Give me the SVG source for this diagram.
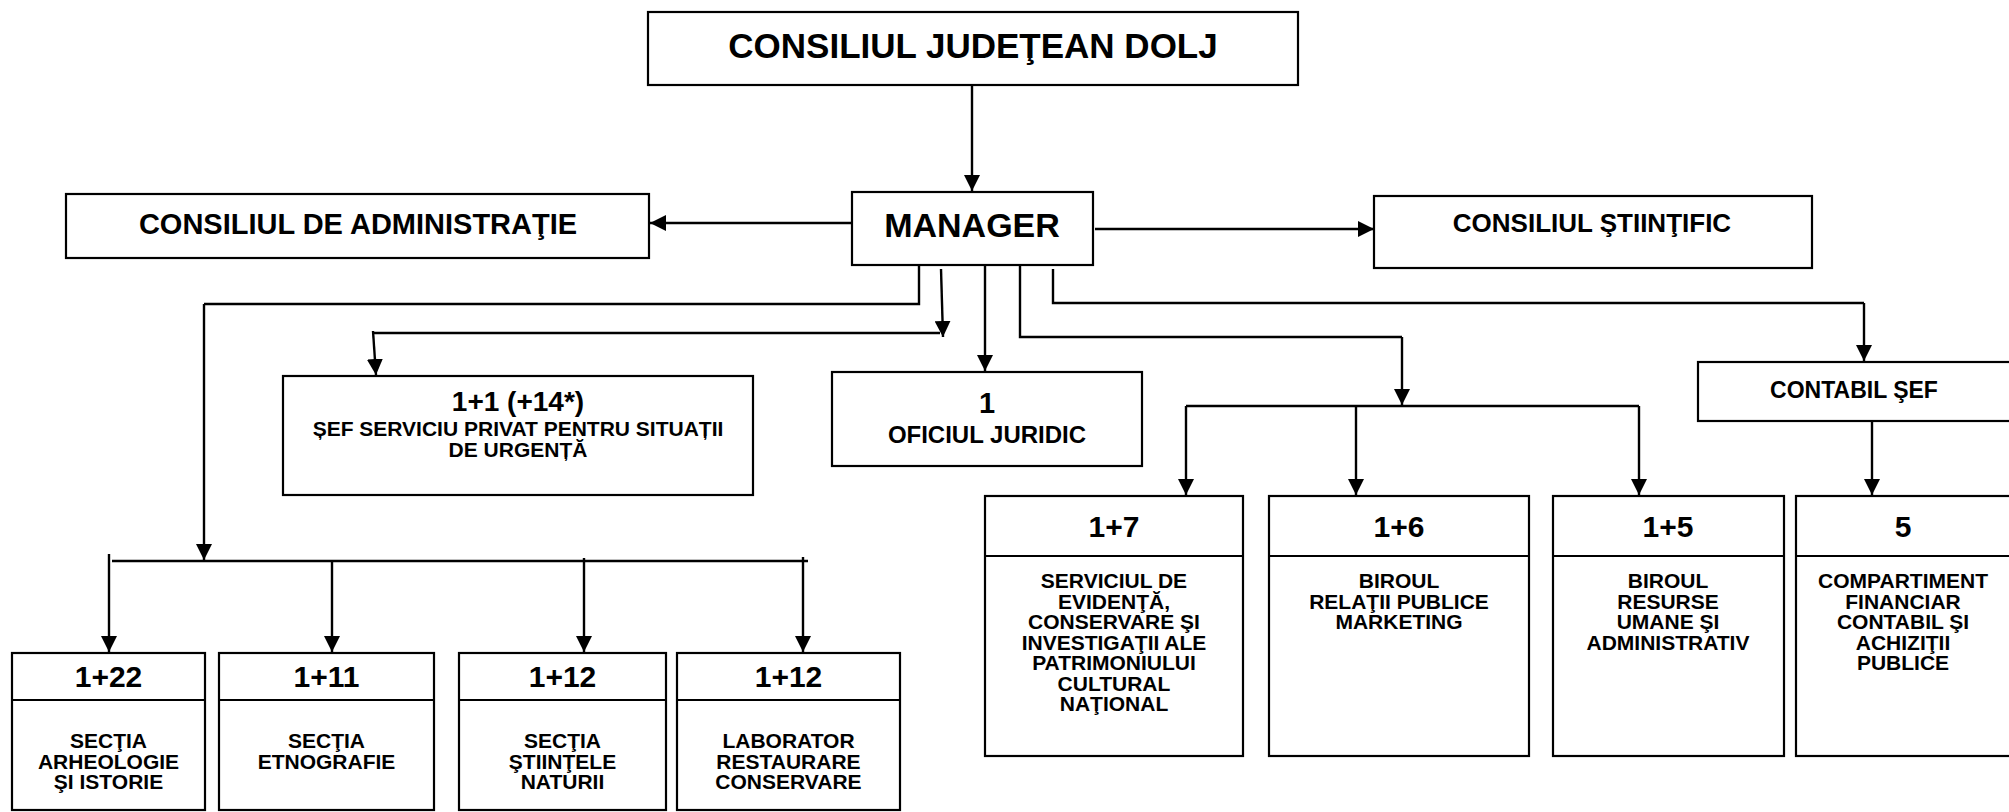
<svg xmlns="http://www.w3.org/2000/svg" width="2009" height="812" viewBox="0 0 2009 812">
<defs>
<marker id="ah" markerUnits="userSpaceOnUse" markerWidth="16" markerHeight="16" viewBox="0 0 16 16" refX="16" refY="8" orient="auto">
<path d="M0,0 L16,8 L0,16 z" fill="#000"/>
</marker>
</defs>
<style>
rect{fill:#fff;stroke:#000;stroke-width:2.2}
.dv{stroke:#000;stroke-width:2.2}
.c line,.c polyline{fill:none;stroke:#000;stroke-width:2.4}
.a{marker-end:url(#ah)}
text{font-family:"Liberation Sans",Arial,sans-serif;font-weight:bold;fill:#000;text-anchor:middle}
.n{font-size:30px}
.l{font-size:21px}
</style>
<rect x="0" y="0" width="2009" height="812" style="stroke:none"/>
<g class="c" id="connectors">
<line class="a" x1="972" y1="85" x2="972" y2="191"/>
<line class="a" x1="852" y1="223" x2="650" y2="223"/>
<line class="a" x1="1095" y1="229" x2="1374" y2="229"/>
<polyline points="919,263 919,304 204,304"/>
<line class="a" x1="204" y1="304" x2="204" y2="560"/>
<line x1="112" y1="561" x2="808" y2="561"/>
<line class="a" x1="109" y1="554" x2="109" y2="652"/>
<line class="a" x1="332" y1="561" x2="332" y2="652"/>
<line class="a" x1="584" y1="558" x2="584" y2="652"/>
<line class="a" x1="803" y1="557" x2="803" y2="652"/>
<line class="a" x1="941" y1="269" x2="943" y2="337"/>
<line x1="940" y1="333" x2="373" y2="333"/>
<line class="a" x1="373" y1="331" x2="376" y2="375"/>
<line class="a" x1="985" y1="265" x2="985" y2="371"/>
<polyline points="1020,265 1020,337 1402,337"/>
<line class="a" x1="1402" y1="337" x2="1402" y2="405"/>
<line x1="1186" y1="406" x2="1639" y2="406"/>
<line class="a" x1="1186" y1="406" x2="1186" y2="495"/>
<line class="a" x1="1356" y1="406" x2="1356" y2="495"/>
<line class="a" x1="1639" y1="406" x2="1639" y2="495"/>
<polyline points="1053,269 1053,303 1864,303"/>
<line class="a" x1="1864" y1="303" x2="1864" y2="361"/>
<line class="a" x1="1872" y1="421" x2="1872" y2="495"/>
</g>
<g id="cjd">
<rect x="648" y="12" width="650" height="73"/>
<text x="973" y="58" style="font-size:35px">CONSILIUL JUDEŢEAN DOLJ</text>
</g>
<g id="manager">
<rect x="852" y="192" width="241" height="73"/>
<text x="972" y="237" style="font-size:34px">MANAGER</text>
</g>
<g id="cda">
<rect x="66" y="194" width="583" height="64"/>
<text x="358" y="234" style="font-size:29px">CONSILIUL DE ADMINISTRAŢIE</text>
</g>
<g id="cs">
<rect x="1374" y="196" width="438" height="72"/>
<text x="1592" y="232" style="font-size:26px">CONSILIUL ŞTIINŢIFIC</text>
</g>
<g id="sef">
<rect x="283" y="376" width="470" height="119"/>
<text x="518" y="411" style="font-size:28px">1+1 (+14*)</text>
<text x="518" y="436" class="l">ȘEF SERVICIU PRIVAT PENTRU SITUAȚII</text>
<text x="518" y="456.5" class="l">DE URGENȚĂ</text>
</g>
<g id="oficiul">
<rect x="832" y="372" width="310" height="94"/>
<text x="987" y="413" class="n" style="font-size:29px">1</text>
<text x="987" y="443" style="font-size:24px">OFICIUL JURIDIC</text>
</g>
<g id="contabil">
<rect x="1698" y="362" width="313" height="59"/>
<text x="1854" y="398" style="font-size:23px">CONTABIL ŞEF</text>
</g>
<g id="b17">
<rect x="985" y="496" width="258" height="260"/>
<line class="dv" x1="985" y1="556" x2="1243" y2="556"/>
<text x="1114" y="537" class="n">1+7</text>
<text x="1114" y="588" class="l">SERVICIUL DE</text>
<text x="1114" y="608.5" class="l">EVIDENŢĂ,</text>
<text x="1114" y="629" class="l">CONSERVARE ŞI</text>
<text x="1114" y="649.5" class="l">INVESTIGAŢII ALE</text>
<text x="1114" y="670" class="l">PATRIMONIULUI</text>
<text x="1114" y="690.5" class="l">CULTURAL</text>
<text x="1114" y="711" class="l">NAŢIONAL</text>
</g>
<g id="b16">
<rect x="1269" y="496" width="260" height="260"/>
<line class="dv" x1="1269" y1="556" x2="1529" y2="556"/>
<text x="1399" y="537" class="n">1+6</text>
<text x="1399" y="588" class="l">BIROUL</text>
<text x="1399" y="608.5" class="l">RELAŢII PUBLICE</text>
<text x="1399" y="629" class="l">MARKETING</text>
</g>
<g id="b15">
<rect x="1553" y="496" width="231" height="260"/>
<line class="dv" x1="1553" y1="556" x2="1784" y2="556"/>
<text x="1668" y="537" class="n">1+5</text>
<text x="1668" y="588" class="l">BIROUL</text>
<text x="1668" y="608.5" class="l">RESURSE</text>
<text x="1668" y="629" class="l">UMANE ŞI</text>
<text x="1668" y="649.5" class="l">ADMINISTRATIV</text>
</g>
<g id="b5">
<rect x="1796" y="496" width="215" height="260"/>
<line class="dv" x1="1796" y1="556" x2="2011" y2="556"/>
<text x="1903" y="537" class="n">5</text>
<text x="1903" y="588" class="l">COMPARTIMENT</text>
<text x="1903" y="608.5" class="l">FINANCIAR</text>
<text x="1903" y="629" class="l">CONTABIL ŞI</text>
<text x="1903" y="649.5" class="l">ACHIZIŢII</text>
<text x="1903" y="670" class="l">PUBLICE</text>
</g>
<g id="b122">
<rect x="12" y="653" width="193" height="157"/>
<line class="dv" x1="12" y1="700" x2="205" y2="700"/>
<text x="108.5" y="687" class="n">1+22</text>
<text x="108.5" y="748" class="l">SECŢIA</text>
<text x="108.5" y="768.5" class="l">ARHEOLOGIE</text>
<text x="108.5" y="789" class="l">ŞI ISTORIE</text>
</g>
<g id="b111">
<rect x="219" y="653" width="215" height="157"/>
<line class="dv" x1="219" y1="700" x2="434" y2="700"/>
<text x="326.5" y="687" class="n">1+11</text>
<text x="326.5" y="748" class="l">SECŢIA</text>
<text x="326.5" y="768.5" class="l">ETNOGRAFIE</text>
</g>
<g id="b112a">
<rect x="459" y="653" width="207" height="157"/>
<line class="dv" x1="459" y1="700" x2="666" y2="700"/>
<text x="562.5" y="687" class="n">1+12</text>
<text x="562.5" y="748" class="l">SECŢIA</text>
<text x="562.5" y="768.5" class="l">ŞTIINŢELE</text>
<text x="562.5" y="789" class="l">NATURII</text>
</g>
<g id="b112b">
<rect x="677" y="653" width="223" height="157"/>
<line class="dv" x1="677" y1="700" x2="900" y2="700"/>
<text x="788.5" y="687" class="n">1+12</text>
<text x="788.5" y="748" class="l">LABORATOR</text>
<text x="788.5" y="768.5" class="l">RESTAURARE</text>
<text x="788.5" y="789" class="l">CONSERVARE</text>
</g>
</svg>
